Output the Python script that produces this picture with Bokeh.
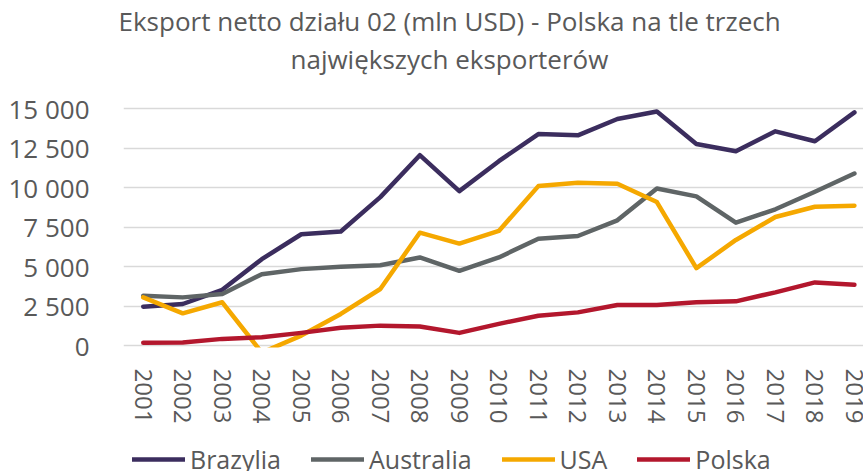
from bokeh.plotting import figure
from bokeh.layouts import column
from bokeh.models import Range1d, FixedTicker, Legend, LegendItem, Title
from bokeh.embed import file_html
from bokeh.resources import INLINE

years = [2001, 2002, 2003, 2004, 2005, 2006, 2007, 2008, 2009, 2010,
         2011, 2012, 2013, 2014, 2015, 2016, 2017, 2018, 2019]
brazylia = [2460, 2630, 3530, 5470, 7050, 7220, 9400, 12060, 9780, 11680,
            13400, 13320, 14350, 14830, 12770, 12310, 13570, 12940, 14770]
australia = [3160, 3050, 3260, 4520, 4840, 4990, 5090, 5580, 4730, 5580,
             6770, 6940, 7930, 9950, 9450, 7780, 8630, 9740, 10900]
usa = [3050, 2040, 2740, -450, 630, 2000, 3580, 7150, 6460, 7260,
       10100, 10310, 10250, 9090, 4900, 6690, 8140, 8790, 8860]
polska = [170, 190, 420, 530, 800, 1120, 1260, 1200, 800, 1370,
          1890, 2100, 2570, 2570, 2740, 2800, 3370, 4000, 3850]

series_names = ["Brazylia", "Australia", "USA", "Polska"]
series_values = [brazylia, australia, usa, polska]
series_colors = ["#3b2d5e", "#5f6566", "#f5a800", "#b3172d"]

y_ticks = [0, 2500, 5000, 7500, 10000, 12500, 15000]
y_tick_labels = ["0", "2 500", "5 000", "7 500", "10 000", "12 500", "15 000"]

title_line1 = "Eksport netto działu 02 (mln USD) - Polska na tle trzech"
title_line2 = "największych eksporterów"

FONT = "Open Sans"
TXT = "#595959"

# ---------------- main chart ----------------
p = figure(width=863, height=440, output_backend="svg", toolbar_location=None,
           x_range=Range1d(2000.5, 2019.23), y_range=Range1d(-126, 15208),
           min_border_left=123, min_border_right=0, min_border_top=104,
           min_border_bottom=93)
p.outline_line_color = None
p.background_fill_color = "white"
p.border_fill_color = "white"

# titles: first added sits closest to the plot frame
spacer = Title(text=" ", text_font_size="1px", standoff=26)
t2 = Title(text=title_line2, align="left", text_font=FONT, text_font_size="26px",
           text_color=TXT, text_font_style="normal", offset=167, standoff=0)
t1 = Title(text=title_line1, align="left", text_font=FONT, text_font_size="26px",
           text_color=TXT, text_font_style="normal", offset=-5, standoff=0)
p.add_layout(spacer, "above")
p.add_layout(t2, "above")
p.add_layout(t1, "above")

p.xaxis.ticker = FixedTicker(ticks=years)
p.xaxis.major_label_orientation = "vertical"
p.xaxis.axis_line_color = None
p.xaxis.major_tick_line_color = None
p.xaxis.minor_tick_line_color = None
p.xaxis.major_label_text_font = FONT
p.xaxis.major_label_text_font_size = "24px"
p.xaxis.major_label_text_color = TXT
p.xaxis.major_label_standoff = 15

p.yaxis.ticker = FixedTicker(ticks=y_ticks)
p.yaxis.major_label_overrides = {t: l for t, l in zip(y_ticks, y_tick_labels)}
p.yaxis.axis_line_color = None
p.yaxis.major_tick_line_color = None
p.yaxis.minor_tick_line_color = None
p.yaxis.major_label_text_font = FONT
p.yaxis.major_label_text_font_size = "26px"
p.yaxis.major_label_text_color = TXT
p.yaxis.major_label_standoff = 28

p.xgrid.grid_line_color = None
p.ygrid.grid_line_color = "#d9d9d9"
p.ygrid.grid_line_width = 1.5

for name, vals, col in zip(series_names, series_values, series_colors):
    p.line(years, vals, line_color=col, line_width=4.5, line_join="round", line_cap="round")

# ---------------- legend strip ----------------
lg = figure(width=863, height=31, output_backend="svg", toolbar_location=None,
            x_range=Range1d(0, 1), y_range=Range1d(0, 1),
            min_border_left=0, min_border_right=0, min_border_top=0, min_border_bottom=0)
lg.outline_line_color = None
lg.axis.visible = False
lg.grid.visible = False
lg.border_fill_color = "white"

items = []
for name, vals, col in zip(series_names, series_values, series_colors):
    r = lg.line(years, vals, line_color=col, line_width=4.5, line_cap="round")
    items.append(LegendItem(label=name, renderers=[r]))

legend = Legend(items=items, orientation="horizontal", location=(9, -5),
                glyph_width=53, glyph_height=20, label_standoff=5, spacing=30,
                padding=0, margin=0, border_line_color=None, background_fill_alpha=0,
                label_text_font=FONT, label_text_font_size="25px", label_text_color=TXT)
lg.add_layout(legend, "center")

layout = column(p, lg, spacing=0)
open("out.html", "w").write(file_html(layout, INLINE))
